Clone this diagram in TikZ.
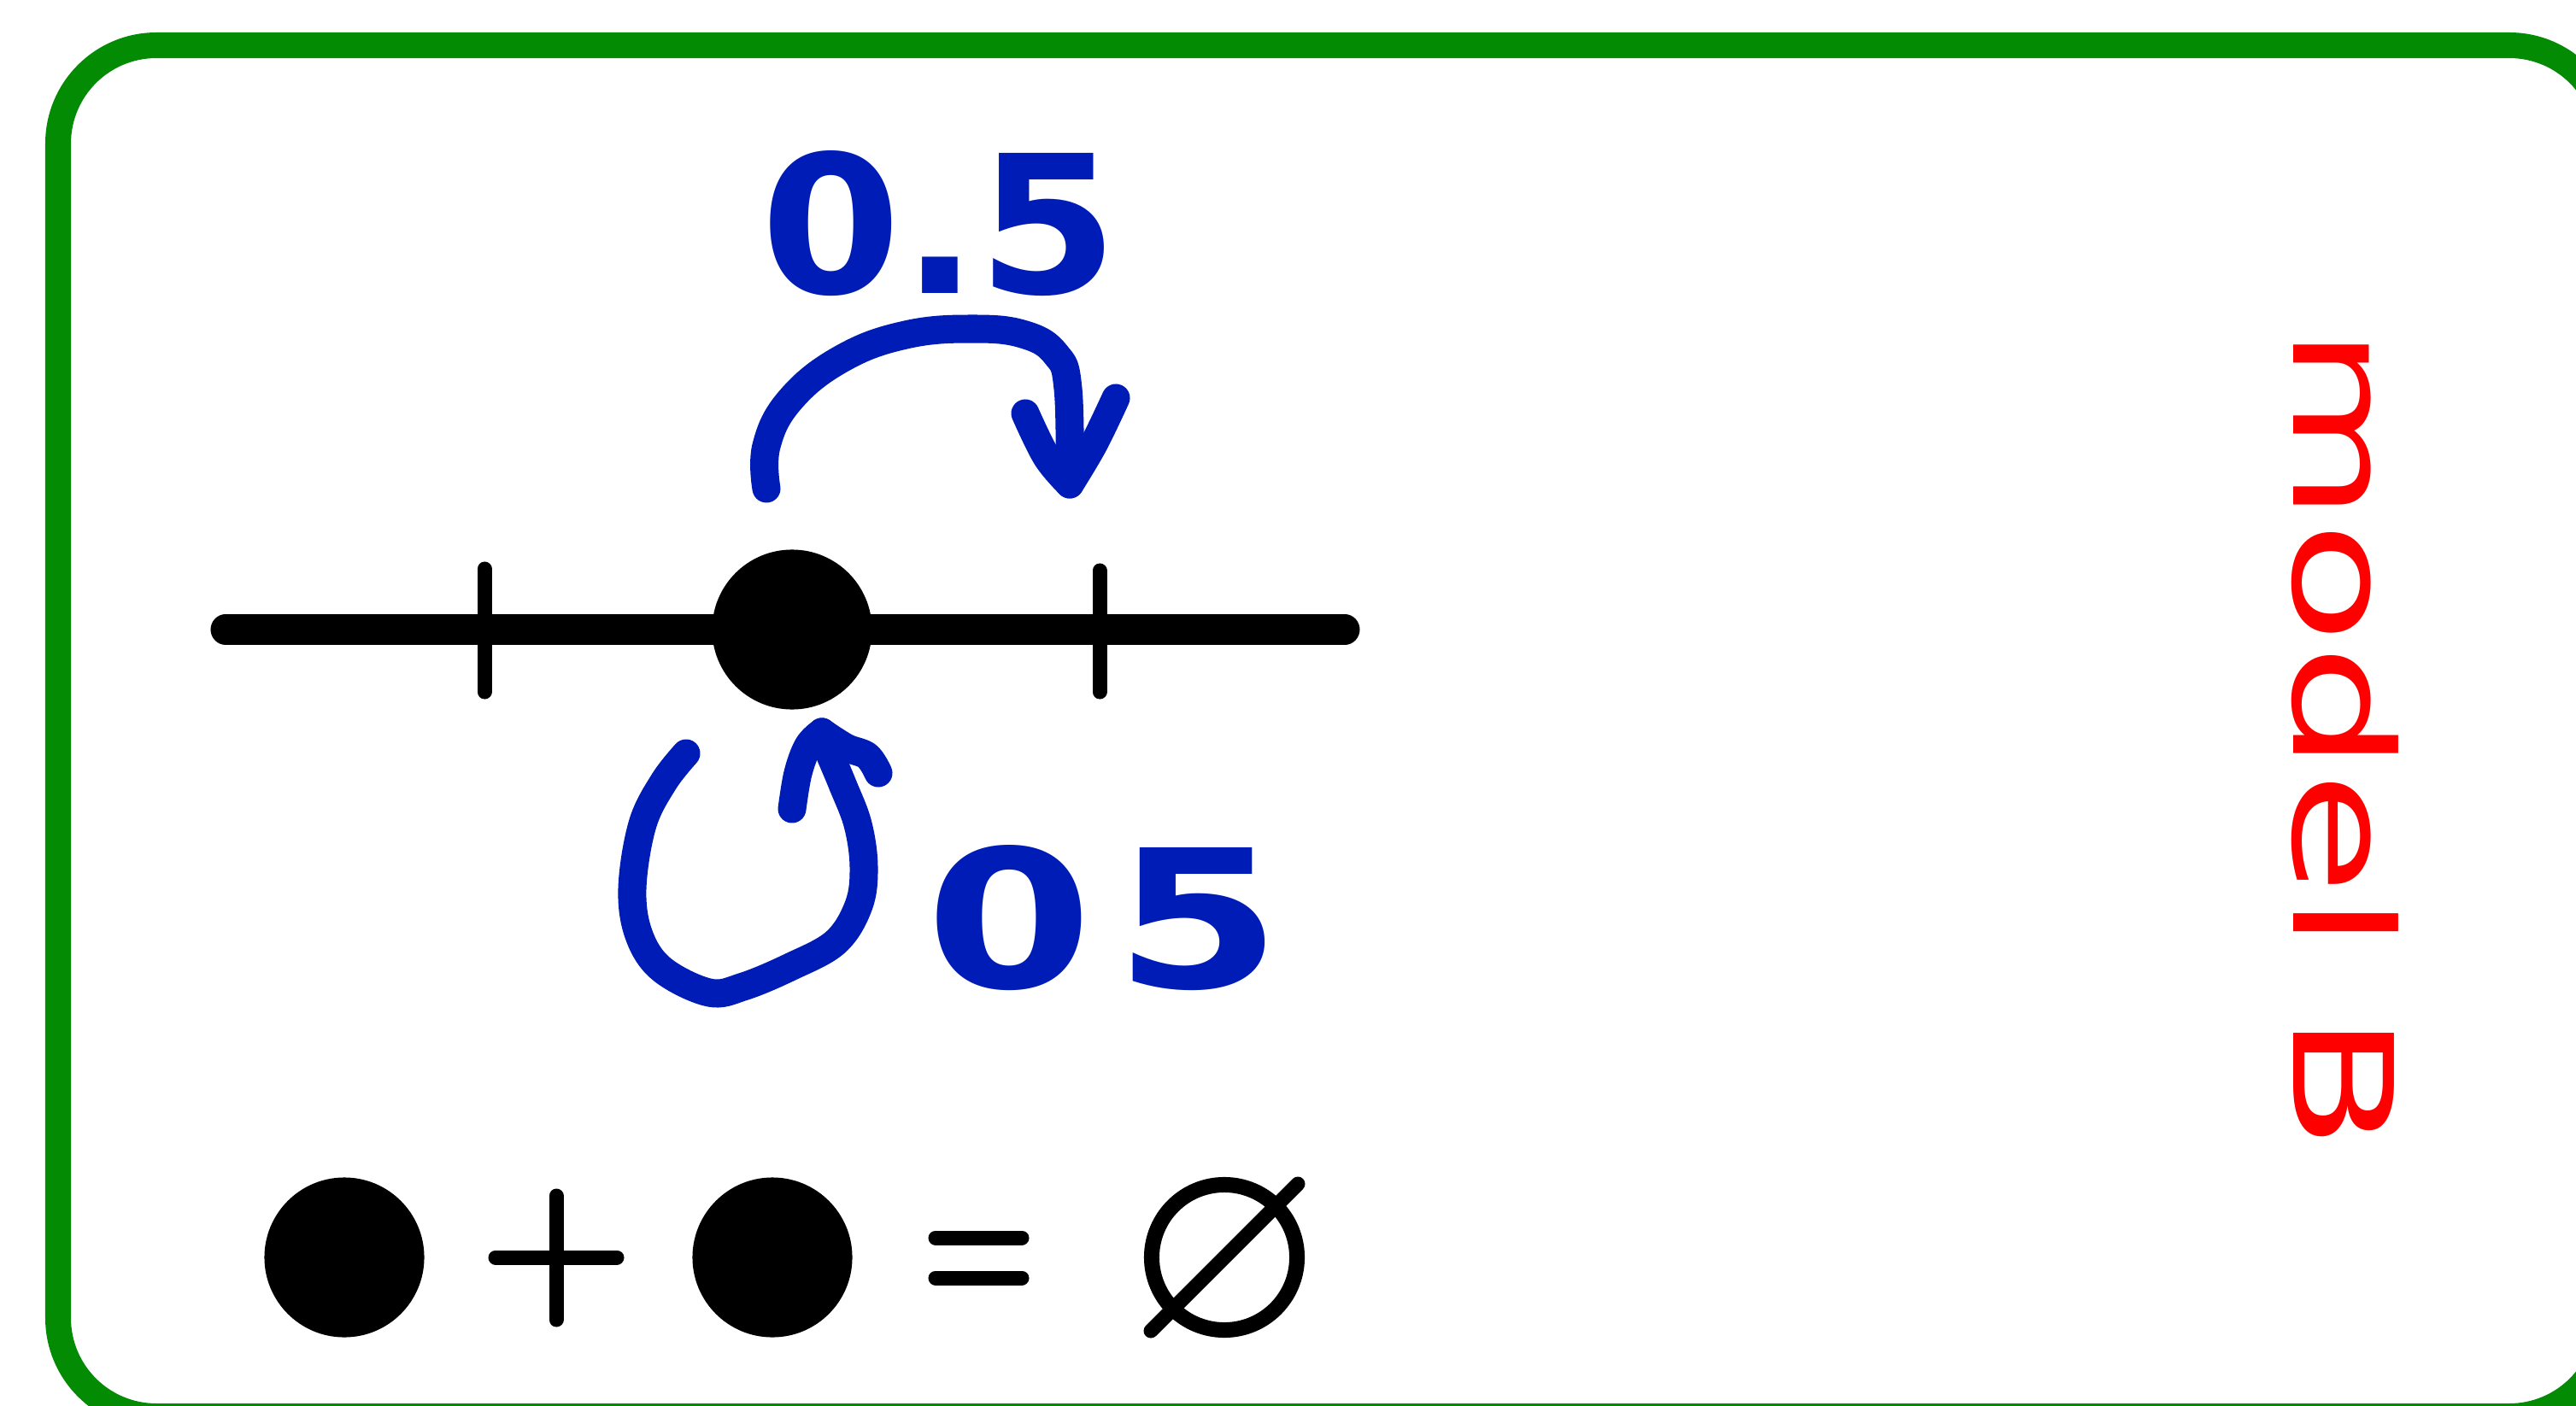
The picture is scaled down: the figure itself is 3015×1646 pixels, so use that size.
\documentclass[tikz,border=0pt]{standalone}
\usepackage{fontspec}
\newfontfamily\handfont{DejaVu Sans}
\definecolor{framegreen}{RGB}{3,140,3}
\definecolor{penblue}{RGB}{0,28,183}
\definecolor{penred}{RGB}{255,0,0}
\begin{document}
\begin{tikzpicture}[x=0.01cm,y=-0.01cm,
  frame/.style={draw=framegreen,line width=0.3cm,rounded corners=1.15cm},
  axis/.style={line width=0.35cm,line cap=round},
  tickmark/.style={line width=0.17cm,line cap=round},
  sym/.style={line width=0.17cm,line cap=round},
  bigdot/.style={circle,fill=black,inner sep=0pt,minimum size=1.87cm},
  emptyring/.style={circle,draw=black,line width=0.18cm,inner sep=0pt,minimum size=1.70cm},
  pen/.style={draw=penblue,line width=0.33cm,line cap=round,line join=round},
  digits/.style={text=penblue,font=\handfont\bfseries\fontsize{64}{70}\selectfont,inner sep=0pt},
  redtext/.style={text=penred,font=\handfont\fontsize{46}{50}\selectfont,inner sep=0pt,rotate=-90}
]
\useasboundingbox (0,0) rectangle (3015,1646);
\clip (0,0) rectangle (3015,1646);
\draw[frame] (68,53) rectangle (3052,1658);

% number line
\coordinate (axL) at (264,737);
\coordinate (axR) at (1574,737);
\draw[axis] (axL) -- (axR);
\coordinate (t1a) at (567,666); \coordinate (t1b) at (567,810);
\coordinate (t2a) at (1287,668); \coordinate (t2b) at (1287,810);
\draw[tickmark] (t1a) -- (t1b);
\draw[tickmark] (t2a) -- (t2b);
\node[bigdot] (d0) at (927,737) {};

% upper label and arc
\node[digits] (lab1) at (1100,262) {\scalebox{1.05}[1]{0.5}};
\draw[pen] plot[smooth,tension=0.7] coordinates {(897,572) (897,522) (925,468) (985,420) (1060,392) (1140,385) (1200,392) (1236,415) (1250,455) (1252,566)};
\draw[pen] plot[smooth,tension=0.6] coordinates {(1200,484) (1225,535) (1252,567)};
\draw[pen] plot[smooth,tension=0.6] coordinates {(1252,567) (1280,520) (1306,466)};

% lower loop arrow and label
\draw[pen] plot[smooth,tension=0.6] coordinates {(803,882) (777,915) (752,965) (740,1040) (748,1095) (775,1135) (830,1162) (870,1155) (925,1132) (978,1103) (1005,1060) (1011,1015) (1004,965) (986,918) (968,875) (962,857)};
\draw[pen] plot[smooth,tension=0.6] coordinates {(927,947) (934,905) (946,873) (962,857)};
\draw[pen] plot[smooth,tension=0.6] coordinates {(962,857) (990,875) (1015,885) (1028,905)};
\node[digits] (lab2) at (1292,1075) {\scalebox{1.25}[1]{0\hspace{0.2cm}5}};

% bottom equation
\node[bigdot] (d1) at (403,1472) {};
\coordinate (p1) at (580,1472); \coordinate (p2) at (722,1472);
\coordinate (p3) at (651,1400); \coordinate (p4) at (651,1545);
\draw[sym] (p1) -- (p2);
\draw[sym] (p3) -- (p4);
\node[bigdot] (d2) at (904,1472) {};
\coordinate (e1) at (1095,1449); \coordinate (e2) at (1196,1449);
\coordinate (e3) at (1095,1496); \coordinate (e4) at (1196,1496);
\draw[sym] (e1) -- (e2);
\draw[sym] (e3) -- (e4);
\node[emptyring] (es) at (1433,1472) {};
\coordinate (s1) at (1347,1558); \coordinate (s2) at (1519,1386);
\draw[sym] (s1) -- (s2);

% red rotated text
\node[redtext] (lab3) at (2745,865) {\scalebox{1.45}[1]{model B}};
\end{tikzpicture}
\end{document}
